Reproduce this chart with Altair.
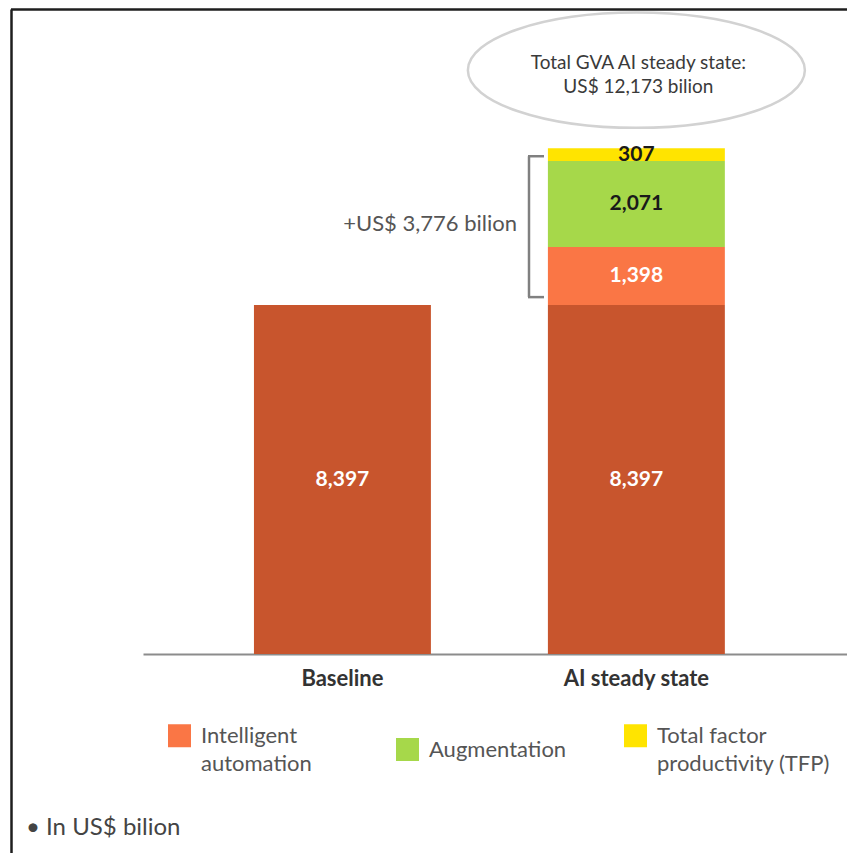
import altair as alt
import pandas as pd

# --- values -------------------------------------------------------------
categories = ["Baseline", "AI steady state"]
base_series = "Baseline GVA"
baseline_gva = 8397
components = ["Intelligent automation", "Augmentation", "Total factor productivity (TFP)"]
component_values = [1398, 2071, 307]

series_colors = ["#C8552D", "#FA7645", "#A6D84A", "#FFE400"]

# --- table for the stacked bars ------------------------------------------
rows = [{"category": c, "series": base_series, "value": baseline_gva} for c in categories]
rows += [{"category": categories[1], "series": s, "value": v}
         for s, v in zip(components, component_values)]
df = pd.DataFrame(rows)
df["y1"] = df.groupby("category")["value"].cumsum()
df["y0"] = df["y1"] - df["value"]
df["mid"] = (df["y0"] + df["y1"]) / 2

uplift = sum(component_values)
total = baseline_gva + uplift
notes = pd.DataFrame({
    "category": [categories[1]],
    "lo": [baseline_gva],
    "hi": [total],
    "mid": [(baseline_gva + total) / 2],
    "uplift_label": [f"+US$ {uplift:,} bilion"],
    "total_line1": ["Total GVA AI steady state:"],
    "total_line2": [f"US$ {total:,} bilion"],
})
one = pd.DataFrame({"k": [0]})

FONT = "Lato"
yscale = alt.Scale(domain=[0, 15500], nice=False, zero=True)
xenc = alt.X(
    "category:N", sort=categories, title=None,
    scale=alt.Scale(paddingInner=0.398, paddingOuter=0.3965, align=0.476),
    axis=alt.Axis(labelAngle=0, ticks=False, domainColor="#8c8c8c", domainWidth=2,
                  labelFont=FONT, labelFontSize=22, labelFontWeight="bold",
                  labelColor="#333333", labelPadding=14, grid=False),
)
xcat = alt.X("category:N", sort=categories)

bars = alt.Chart(df).mark_bar().encode(
    x=xenc,
    y=alt.Y("y0:Q", scale=yscale, axis=None),
    y2="y1:Q",
    color=alt.Color(
        "series:N",
        scale=alt.Scale(domain=[base_series] + components, range=series_colors),
        legend=alt.Legend(
            title=None, values=components, orient="none", legendX=25, legendY=714,
            direction="horizontal", columns=3, gridAlign="all", columnPadding=22,
            symbolType="square", symbolSize=529, symbolStrokeWidth=0, symbolOpacity=1,
            labelFont=FONT, labelFontSize=22, labelColor="#555555", labelOffset=10,
            labelLimit=300, padding=0,
            labelExpr=("datum.label == 'Intelligent automation' ? ['Intelligent', 'automation'] : "
                       "datum.label == 'Total factor productivity (TFP)' ? "
                       "['Total factor', 'productivity (TFP)'] : datum.label"),
        ),
    ),
)

values = alt.Chart(df).mark_text(font=FONT, fontSize=21, fontWeight="bold", baseline="middle").encode(
    x=xcat,
    y=alt.Y("mid:Q"),
    text=alt.Text("value:Q", format=","),
    color=alt.condition(
        "datum.series === 'Augmentation' || datum.series === 'Total factor productivity (TFP)'",
        alt.value("#1a1a1a"), alt.value("#ffffff")),
)

# bracket around the AI uplift
bracket_v = alt.Chart(notes).mark_rule(color="#808080", strokeWidth=2.5, yOffset=-8, y2Offset=8).encode(
    x=alt.value(386), y=alt.Y("lo:Q"), y2="hi:Q")
bracket_lo = alt.Chart(notes).mark_rule(color="#808080", strokeWidth=2.5, yOffset=-8).encode(
    x=alt.value(385), x2=alt.value(401), y=alt.Y("lo:Q"))
bracket_hi = alt.Chart(notes).mark_rule(color="#808080", strokeWidth=2.5, yOffset=8).encode(
    x=alt.value(385), x2=alt.value(401), y=alt.Y("hi:Q"))
uplift_text = alt.Chart(notes).mark_text(font=FONT, fontSize=22, color="#555555", align="right",
                                         baseline="middle", dy=-3).encode(
    x=alt.value(374), y=alt.Y("mid:Q"), text="uplift_label:N")

# callout ellipse with the total
ry = 0.342
c = 0.5523
ellipse_path = (f"M 1 0 C 1 {c*ry:.4f} {c} {ry} 0 {ry} C {-c} {ry} -1 {c*ry:.4f} -1 0 "
                f"C -1 {-c*ry:.4f} {-c} {-ry} 0 {-ry} C {c} {-ry} 1 {-c*ry:.4f} 1 0 Z")
ellipse = alt.Chart(notes).mark_point(shape=ellipse_path, size=337 ** 2, filled=False,
                                      stroke="#d2d2d2", strokeWidth=2.5, opacity=1, yOffset=-78).encode(
    x=xcat, y=alt.Y("hi:Q"))
total_1 = alt.Chart(notes).mark_text(font=FONT, fontSize=19, color="#3a3a3a", baseline="middle",
                                     yOffset=-85, xOffset=2).encode(
    x=xcat, y=alt.Y("hi:Q"), text="total_line1:N")
total_2 = alt.Chart(notes).mark_text(font=FONT, fontSize=19, color="#3a3a3a", baseline="middle",
                                     yOffset=-61, xOffset=2).encode(
    x=xcat, y=alt.Y("hi:Q"), text="total_line2:N")

footnote = alt.Chart(one).mark_text(font=FONT, fontSize=24, color="#444444", align="left",
                                    baseline="middle").encode(
    x=alt.value(-117), y=alt.value(818), text=alt.value("\u2022 In US$ bilion"))

frame_top = alt.Chart(one).mark_rule(color="#1e1e1e", strokeWidth=2.5).encode(
    x=alt.value(-132), x2=alt.value(704), y=alt.value(-0.5))
frame_left = alt.Chart(one).mark_rule(color="#1e1e1e", strokeWidth=2.5).encode(
    x=alt.value(-131.5), y=alt.value(-0.5), y2=alt.value(843))

chart = alt.layer(
    bars, values, bracket_v, bracket_lo, bracket_hi, uplift_text,
    ellipse, total_1, total_2, footnote, frame_top, frame_left,
).properties(
    width=704, height=644,
    autosize=alt.AutoSizeParams(type="none"),
    padding={"left": 143, "top": 10, "right": 0, "bottom": 199},
    background="white",
).configure(
    view=alt.ViewConfig(stroke=None),
    style={"guide-label": {"lineHeight": 28}},
)

chart.save("out.html", embed_options={"renderer": "svg", "actions": False})
